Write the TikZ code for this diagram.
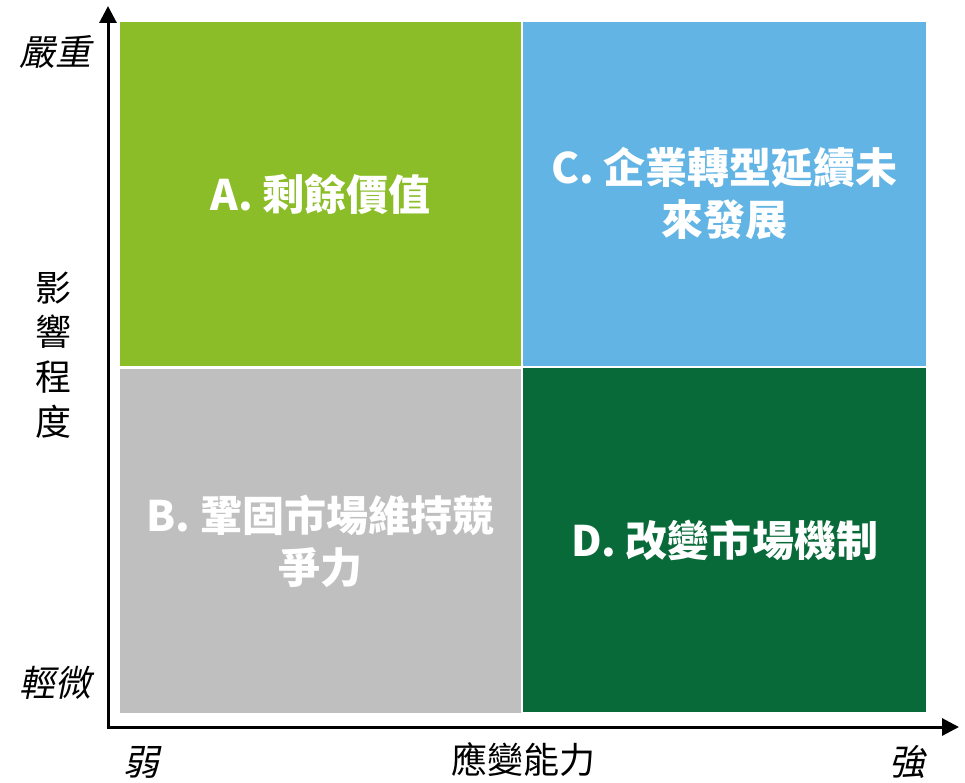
\documentclass[tikz,border=0pt]{standalone}
\usepackage{fontspec}
\usetikzlibrary{arrows.meta}
\setmainfont{Noto Sans CJK TC}
\newfontfamily\cjk{Noto Sans CJK TC}
\newfontfamily\cjkit[FakeSlant=0.2]{Noto Sans CJK TC}
\definecolor{qgreen}{HTML}{8BBD28}
\definecolor{qblue}{HTML}{62B4E4}
\definecolor{qgray}{HTML}{BFBFBF}
\definecolor{qdark}{HTML}{076A38}
\tikzset{
  quad/.style={draw=none, minimum height=344pt, inner sep=0pt, text=white,
    align=center, font=\fontsize{42}{52}\selectfont\bfseries\cjk},
  axislabel/.style={inner sep=0pt, font=\fontsize{36}{44}\selectfont\cjk},
  axislabelit/.style={inner sep=0pt, font=\fontsize{36}{44}\selectfont\cjkit},
  axisline/.style={line width=3pt, -{Triangle[length=17pt,width=17pt]}}
}
\begin{document}
\begin{tikzpicture}[x=1pt,y=-1pt]
\useasboundingbox (0,0) rectangle (965,783);
\node[quad, fill=qgreen, minimum width=401pt] (A) at (320.5,194) {A. 剩餘價值};
\node[quad, fill=qblue, minimum width=403pt] (C) at (724.5,194) {C. 企業轉型延續未\\來發展};
\node[quad, fill=qgray, minimum width=401pt] (B) at (320.5,541) {B. 鞏固市場維持競\\爭力};
\node[quad, fill=qdark, minimum width=403pt] (D) at (724.5,540) {D. 改變市場機制};
\coordinate (o) at (108,727);
\coordinate (ytop) at (108,6);
\coordinate (xend) at (959,727);
\draw[axisline] (o) -- (ytop);
\draw[axisline] (o) ++(-1.5,0) coordinate (o2) (o2) -- (xend);
\node[axislabelit] (hi) at (55,52) {嚴重};
\node[axislabelit] (lo) at (55,683) {輕微};
\node[axislabel, align=center, font=\fontsize{36}{44.7}\selectfont\cjk] (ylab) at (53,355) {影\\響\\程\\度};
\node[axislabel] (xlab) at (523,760) {應變能力};
\node[axislabelit] (weak) at (141,762) {弱};
\node[axislabelit] (strong) at (907,762) {強};
\end{tikzpicture}
\end{document}
